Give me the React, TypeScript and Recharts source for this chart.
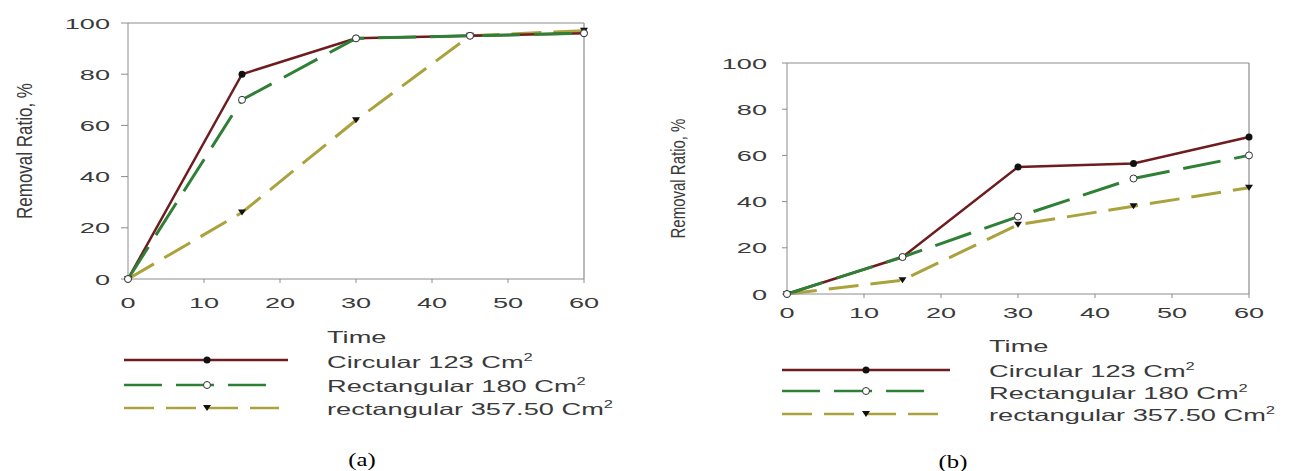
import { LineChart, Line, XAxis, YAxis, ReferenceLine } from "recharts";

const minutes = [0, 15, 30, 45, 60];
const xTicks = [0, 10, 20, 30, 40, 50, 60];
const yTicks = [0, 20, 40, 60, 80, 100];

const seriesNames = ["Circular 123 Cm", "Rectangular 180 Cm", "rectangular 357.50 Cm"];
const axisTitleX = "Time";
const axisTitleY = "Removal Ratio, %";

// panel (a)
const circularA = [0, 80, 94, 95, 96];
const rect180A = [0, 70, 94, 95, 96];
const rect357A = [0, 26, 62, 95, 97];

// panel (b)
const circularB = [0, 16, 55, 56.5, 68];
const rect180B = [0, 16, 33.5, 50, 60];
const rect357B = [0, 6, 30, 38, 46];

const buildRows = (c: number[], r1: number[], r2: number[]) =>
  minutes.map((t, i) => ({ time: t, circular: c[i], rect180: r1[i], rect357: r2[i] }));

const dataA = buildRows(circularA, rect180A, rect357A);
const dataB = buildRows(circularB, rect180B, rect357B);

const SANS = "'Liberation Sans', Arial, sans-serif";
const TEXT = "#3a3a3a";
const FRAME = "#8c8c8c";
const STRETCH = 1.75;

const SERIES = [
  { key: "circular", name: seriesNames[0], color: "#6e1c20", dash: undefined, width: 2.5, marker: "dot" },
  { key: "rect180", name: seriesNames[1], color: "#2f8036", dash: "38 14", width: 3, marker: "open" },
  { key: "rect357", name: seriesNames[2], color: "#aaa23c", dash: "30 12", width: 3, marker: "tri" },
];
// draw order: yellow under, green on top
const DRAW_ORDER = [2, 0, 1];

const Marker = ({ kind, cx, cy }: { kind: string; cx: number; cy: number }) => {
  if (kind === "open") return <circle cx={cx} cy={cy} r={3.5} fill="#fff" stroke="#333" strokeWidth={1} />;
  if (kind === "tri")
    return <polygon points={`${cx - 4},${cy - 3} ${cx + 4},${cy - 3} ${cx},${cy + 3}`} fill="#111" />;
  return <circle cx={cx} cy={cy} r={3.5} fill="#111" />;
};

const XTick = ({ x, y, payload }: any) => (
  <g transform={`translate(${x},${y})`}>
    <text transform={`scale(${STRETCH},1)`} textAnchor="middle" dy="0.71em" fontSize={15.5} fill={TEXT} fontFamily={SANS}>
      {payload.value}
    </text>
  </g>
);

const YTick = ({ x, y, payload }: any) => (
  <g transform={`translate(${x},${y})`}>
    <text transform={`scale(${STRETCH},1)`} textAnchor="end" dy="0.355em" fontSize={15.5} fill={TEXT} fontFamily={SANS}>
      {payload.value}
    </text>
  </g>
);

type PanelCfg = {
  left: number;
  width: number;
  height: number;
  margin: { top: number; right: number; bottom: number; left: number };
  yWidth: number;
  yTickSize: number;
  yTickMargin: number;
  xTickMargin: number;
  titleDx: number;
  titleSize: number;
};

const Panel = ({ data, cfg }: { data: any[]; cfg: PanelCfg }) => (
  <div style={{ position: "absolute", left: cfg.left, top: 0 }}>
    <LineChart width={cfg.width} height={cfg.height} data={data} margin={cfg.margin}>
      <XAxis
        dataKey="time"
        type="number"
        domain={[0, 60]}
        ticks={xTicks}
        interval={0}
        height={30}
        tickSize={4}
        tickMargin={cfg.xTickMargin}
        stroke={FRAME}
        tick={<XTick />}
      />
      <YAxis
        type="number"
        domain={[0, 100]}
        ticks={yTicks}
        interval={0}
        width={cfg.yWidth}
        tickSize={cfg.yTickSize}
        tickMargin={cfg.yTickMargin}
        stroke={FRAME}
        tick={<YTick />}
        label={(p: any) => {
          const vb = p.viewBox || { x: 0, y: cfg.margin.top, width: cfg.yWidth, height: 256 };
          const cx = vb.x + cfg.titleDx;
          const cy = vb.y + vb.height / 2;
          return (
            <g transform={`translate(${cx},${cy}) scale(1.3,1) rotate(-90)`}>
              <text textAnchor="middle" dy="0.35em" fontSize={cfg.titleSize} fill={TEXT} fontFamily={SANS}>
                {axisTitleY}
              </text>
            </g>
          );
        }}
      />
      <ReferenceLine y={100} stroke={FRAME} strokeWidth={1.2} />
      <ReferenceLine x={60} stroke={FRAME} strokeWidth={1.2} />
      {DRAW_ORDER.map((i) => {
        const s = SERIES[i];
        return (
          <Line
            key={s.key}
            dataKey={s.key}
            name={s.name}
            type="linear"
            stroke={s.color}
            strokeWidth={s.width}
            strokeDasharray={s.dash}
            dot={(p: any) => <Marker key={`${s.key}-${p.index}`} kind={s.marker} cx={p.cx} cy={p.cy} />}
            activeDot={false}
            isAnimationActive={false}
          />
        );
      })}
    </LineChart>
  </div>
);

type LegendCfg = {
  lineX: number;
  lineLens: number[];
  lineYs: number[];
  markerX: number;
  textX: number;
  timeY: number;
  textYs: number[];
};

const PanelLegend = ({ cfg }: { cfg: LegendCfg }) => (
  <g>
    <g transform={`translate(${cfg.textX},${cfg.timeY}) scale(1.65,1)`}>
      <text fontSize={16.5} fill={TEXT} fontFamily={SANS}>
        {axisTitleX}
      </text>
    </g>
    {SERIES.map((s, i) => (
      <g key={s.key}>
        <line
          x1={cfg.lineX}
          x2={cfg.lineX + cfg.lineLens[i]}
          y1={cfg.lineYs[i]}
          y2={cfg.lineYs[i]}
          stroke={s.color}
          strokeWidth={2.5}
          strokeDasharray={s.dash}
        />
        <Marker kind={s.marker} cx={cfg.markerX} cy={cfg.lineYs[i]} />
        <g transform={`translate(${cfg.textX},${cfg.textYs[i]}) scale(1.65,1)`}>
          <text fontSize={16.5} fill={TEXT} fontFamily={SANS}>
            {s.name}
            <tspan dy={-7} fontSize={10}>
              2
            </tspan>
          </text>
        </g>
      </g>
    ))}
  </g>
);

const Caption = ({ x, y, label }: { x: number; y: number; label: string }) => (
  <g transform={`translate(${x},${y}) scale(1.3,1)`}>
    <text textAnchor="middle" fontSize={19} fill="#000" fontFamily="'Liberation Serif', 'Times New Roman', serif">
      {label}
    </text>
  </g>
);

const panelA: PanelCfg = {
  left: 0,
  width: 600,
  height: 320,
  margin: { top: 23, right: 16, bottom: 11, left: 0 },
  yWidth: 128,
  yTickSize: 7,
  yTickMargin: 11,
  xTickMargin: 14,
  titleDx: 24,
  titleSize: 17,
};

const panelB: PanelCfg = {
  left: 640,
  width: 652,
  height: 340,
  margin: { top: 63, right: 43, bottom: 16, left: 0 },
  yWidth: 147,
  yTickSize: 5,
  yTickMargin: 15,
  xTickMargin: 9,
  titleDx: 38,
  titleSize: 15,
};

const legendA: LegendCfg = {
  lineX: 124,
  lineLens: [164, 148, 155],
  lineYs: [360, 385, 408],
  markerX: 207,
  textX: 327,
  timeY: 343,
  textYs: [368, 392, 415],
};

const legendB: LegendCfg = {
  lineX: 782,
  lineLens: [168, 152, 160],
  lineYs: [370, 391, 414],
  markerX: 866,
  textX: 989,
  timeY: 352,
  textYs: [377, 399, 421],
};

export default function App() {
  return (
    <div style={{ position: "absolute", left: 0, top: 0, width: 1292, height: 471, background: "#fff", overflow: "hidden" }}>
      <Panel data={dataA} cfg={panelA} />
      <Panel data={dataB} cfg={panelB} />
      <svg width={1292} height={471} style={{ position: "absolute", left: 0, top: 0, pointerEvents: "none" }}>
        <PanelLegend cfg={legendA} />
        <PanelLegend cfg={legendB} />
        <Caption x={362} y={466} label="(a)" />
        <Caption x={953} y={468} label="(b)" />
      </svg>
    </div>
  );
}
